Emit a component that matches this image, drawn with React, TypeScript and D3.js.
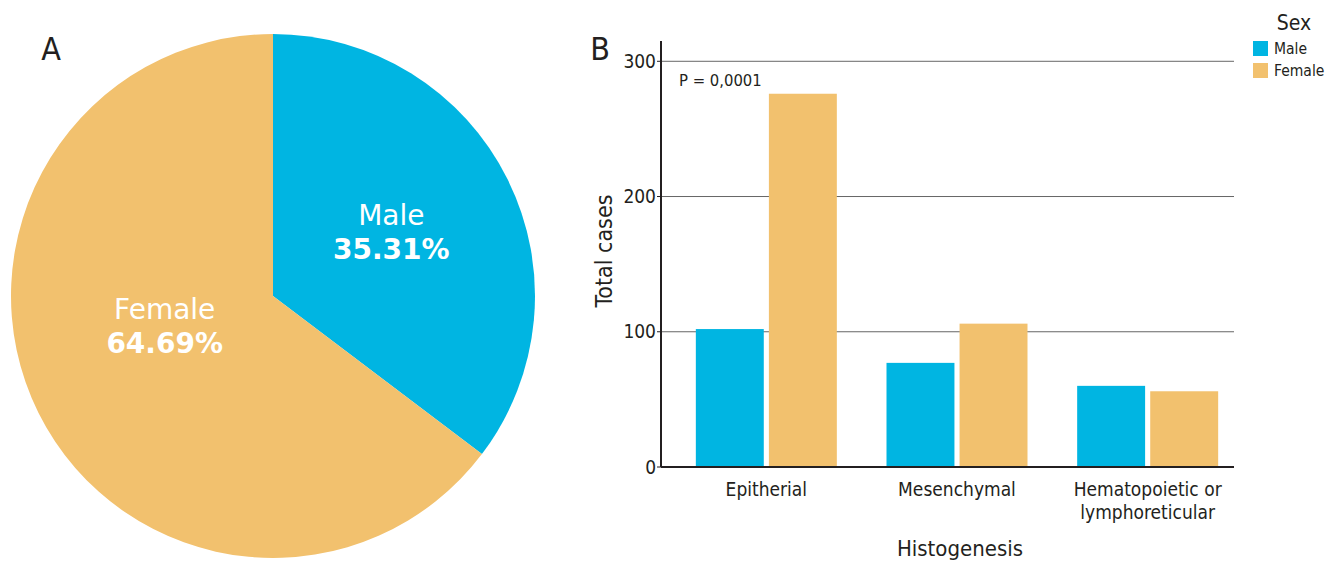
import React, { useEffect } from "react";
import * as d3 from "d3";

const pieLabels = ["Male", "Female"];
const pieValues = [35.31, 64.69];
const pieText = ["35.31%", "64.69%"];

const categories = ["Epitherial", "Mesenchymal", "Hematopoietic or|lymphoreticular"];
const series = ["Male", "Female"];
const maleValues = [102, 77, 60];
const femaleValues = [276, 106, 56];
const yTicks = [0, 100, 200, 300];

const BLUE = "#00b5e2";
const ORANGE = "#f2c16e";
const TEXT = "#231f20";
const COND = "'DejaVu Sans Condensed', 'DejaVu Sans', sans-serif";
const WIDE = "'DejaVu Sans', sans-serif";

export default function App() {
  useEffect(() => {
    document.body.style.margin = "0";
  }, []);

  const W = 1330, H = 561;
  // Pie
  const cx = 273, cy = 296, R = 262;
  const pieGen = d3.pie<number>().sort(null).value((d) => d);
  const arcs = pieGen(pieValues);
  const arc = d3.arc<d3.PieArcDatum<number>>().innerRadius(0).outerRadius(R);
  const labelShift = [[1, 2], [9, -20]];

  // Bars
  const x0 = d3.scaleBand<string>().domain(categories).range([671, 1243]).padding(0);
  const groupW = 141;
  const x1 = d3.scaleBand<string>().domain(series).range([0, groupW]).paddingInner(0.07);
  const y = d3.scaleLinear().domain([0, 315]).range([467, 41]);
  const axisX = 661, gridEnd = 1234;
  const rows = categories.map((c, i) => ({ c, vals: [maleValues[i], femaleValues[i]] }));
  const colors = [BLUE, ORANGE];

  return (
    <svg width={W} height={H} style={{ display: "block", background: "#fff" }}>
      {/* Panel A */}
      <text x={51} y={60} fontSize={32} fontFamily={COND} fill={TEXT} textAnchor="middle">A</text>
      <g transform={`translate(${cx},${cy})`}>
        {arcs.map((a, i) => (
          <path key={i} d={arc(a) || ""} fill={colors[i]} />
        ))}
        {arcs.map((a, i) => {
          const [lx, ly] = arc.centroid(a);
          const px = lx + labelShift[i][0], py = ly + labelShift[i][1];
          return (
            <g key={"l" + i} transform={`translate(${px},${py})`} fill="#fff" textAnchor="middle" fontFamily={WIDE}>
              <text y={-15} fontSize={28}>{pieLabels[i]}</text>
              <text y={19} fontSize={28} fontWeight={700}>{pieText[i]}</text>
            </g>
          );
        })}
      </g>

      {/* Panel B */}
      <text x={600} y={60} fontSize={32} fontFamily={COND} fill={TEXT} textAnchor="middle">B</text>
      {yTicks.filter((t) => t > 0).map((t) => (
        <line key={"g" + t} x1={axisX} x2={gridEnd} y1={y(t)} y2={y(t)} stroke="#666" strokeWidth={1} />
      ))}
      {rows.map((r) => (
        <g key={r.c} transform={`translate(${(x0(r.c) || 0) + (x0.bandwidth() - groupW) / 2},0)`}>
          {r.vals.map((v, j) => (
            <rect key={j} x={x1(series[j])} y={y(v)} width={x1.bandwidth()} height={y(0) - y(v)} fill={colors[j]} />
          ))}
        </g>
      ))}
      <line x1={axisX} x2={axisX} y1={y(315)} y2={y(0)} stroke={TEXT} strokeWidth={2} />
      <line x1={axisX} x2={gridEnd} y1={y(0)} y2={y(0)} stroke={TEXT} strokeWidth={2} />
      {yTicks.map((t) => (
        <g key={"t" + t}>
          <line x1={axisX - 4} x2={axisX} y1={y(t)} y2={y(t)} stroke={TEXT} strokeWidth={1} />
          <text x={axisX - 5} y={y(t)} dy="0.35em" textAnchor="end" fontSize={19} fontFamily={COND} fill={TEXT}>{t}</text>
        </g>
      ))}
      {categories.map((c) => {
        const lines = c.split("|");
        const cxp = (x0(c) || 0) + x0.bandwidth() / 2;
        return (
          <text key={"c" + c} x={cxp} y={496} textAnchor="middle" fontSize={19} fontFamily={COND} fill={TEXT}>
            {lines.map((l, k) => (
              <tspan key={k} x={cxp} dy={k === 0 ? 0 : 23}>{l}</tspan>
            ))}
          </text>
        );
      })}
      <text x={960} y={556} textAnchor="middle" fontSize={22} fontFamily={COND} fill={TEXT}>Histogenesis</text>
      <text transform={`translate(612,251) rotate(-90)`} textAnchor="middle" fontSize={23} fontFamily={COND} fill={TEXT}>Total cases</text>
      <text x={679} y={86} fontSize={16.5} fontFamily={COND} fill={TEXT}>P = 0,0001</text>

      {/* Legend */}
      <text x={1294} y={30} textAnchor="middle" fontSize={21} fontFamily={COND} fill={TEXT}>Sex</text>
      {series.map((s, i) => (
        <g key={"lg" + s} transform={`translate(1253,${41 + i * 22})`}>
          <rect width={15} height={15} fill={colors[i]} />
          <text x={21} y={8} dy="0.35em" fontSize={15.5} fontFamily={COND} fill={TEXT}>{s}</text>
        </g>
      ))}
    </svg>
  );
}
